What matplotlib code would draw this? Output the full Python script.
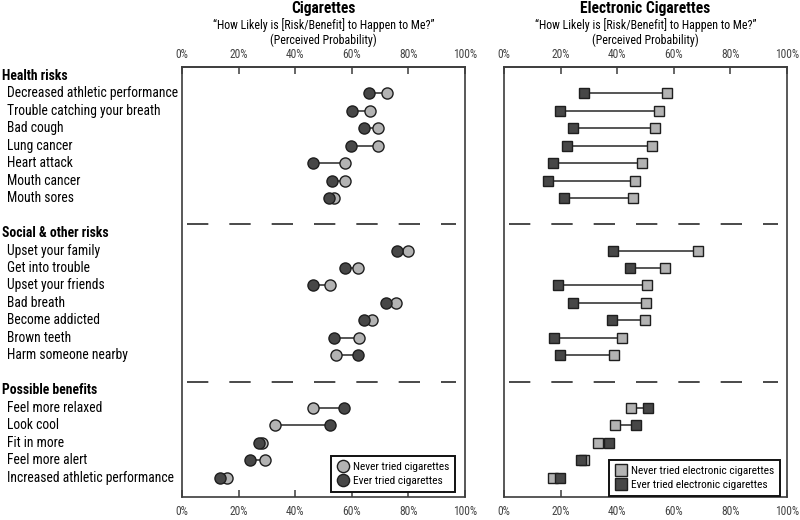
import matplotlib.pyplot as plt
from matplotlib import font_manager
from matplotlib.transforms import blended_transform_factory
from matplotlib.lines import Line2D

# row labels, grouped
health = ["Decreased athletic performance", "Trouble catching your breath", "Bad cough",
          "Lung cancer", "Heart attack", "Mouth cancer", "Mouth sores"]
social = ["Upset your family", "Get into trouble", "Upset your friends", "Bad breath",
          "Become addicted", "Brown teeth", "Harm someone nearby"]
benefits = ["Feel more relaxed", "Look cool", "Fit in more", "Feel more alert",
            "Increased athletic performance"]
groups = ["Health risks", "Social & other risks", "Possible benefits"]

# cigarettes (%), never / ever tried
cig_never = [72.3, 66.3, 69.4, 69.4, 57.5, 57.5, 53.8,
             80.0, 62.2, 52.2, 75.7, 67.3, 62.4, 54.3,
             46.4, 32.7, 28.2, 29.4, 15.8]
cig_ever = [66.0, 60.2, 64.2, 59.7, 46.4, 52.9, 52.1,
            76.0, 57.6, 46.2, 72.0, 64.2, 53.8, 62.1,
            57.4, 52.2, 27.1, 24.0, 13.4]

# e-cigarettes (%), never / ever tried
ecig_never = [57.6, 54.9, 53.2, 52.3, 48.8, 46.4, 45.7,
              68.6, 56.9, 50.4, 50.1, 49.7, 41.7, 38.9,
              44.8, 39.2, 33.2, 28.3, 17.2]
ecig_ever = [28.2, 19.7, 24.4, 22.4, 17.2, 15.4, 21.1,
             38.5, 44.4, 19.0, 24.4, 38.2, 17.6, 19.9,
             50.8, 46.6, 37.1, 27.1, 19.8]

LIGHT = "#b3b3b3"
DARK = "#474747"
EDGE = "#1e1e1e"

# Arial Narrow look-alike
installed = {f.name for f in font_manager.fontManager.ttflist}
narrow = [n for n in ["Liberation Sans Narrow", "Roboto Condensed", "Liberation Sans"] if n in installed]
plt.rcParams['font.family'] = narrow[:1] + ["DejaVu Sans"]

# y positions: header rows then items
header_pos = [0, 9, 18]
item_pos = list(range(1, 8)) + list(range(10, 17)) + list(range(19, 24))
dash_pos = [8.5, 17.5]
labels = health + social + benefits
ticks = list(range(0, 101, 20))
ticklabels = [f"{t}%" for t in ticks]

fig = plt.figure(figsize=(8, 5.2), dpi=100)
ax1 = fig.add_axes([182 / 800, 23 / 520, 283 / 800, 430 / 520])
ax2 = fig.add_axes([504 / 800, 23 / 520, 283 / 800, 430 / 520])


def panel(ax, never, ever, marker, ms, title, leg_labels, anchor):
    for y, a, b in zip(item_pos, never, ever):
        ax.plot([a, b], [y, y], color="#555555", lw=1.4, zorder=1)
    ax.plot(never, item_pos, ls="none", marker=marker, ms=ms, mfc=LIGHT,
            mec=EDGE, mew=1.0, zorder=2)
    ax.plot(ever, item_pos, ls="none", marker=marker, ms=ms, mfc=DARK,
            mec=EDGE, mew=1.0, zorder=3)
    for d in dash_pos:
        ln, = ax.plot([1.66, 96.8], [d, d], color="#2a2a2a", lw=1.2)
        ln.set_dashes((12.8, 12.6))
    ax.set_xlim(0, 100)
    ax.set_ylim(24.1, -0.5)
    ax.set_yticks([])
    ax.set_xticks(ticks)
    ax.set_xticklabels(ticklabels)
    ax.tick_params(axis="x", direction="in", length=5, labelsize=8.3,
                   labelcolor="#444444", color="#3c3c3c", width=1.1, pad=6)
    top = ax.secondary_xaxis("top")
    top.set_xticks(ticks)
    top.set_xticklabels(ticklabels)
    top.tick_params(axis="x", direction="in", length=5, labelsize=8.3,
                    labelcolor="#444444", color="#3c3c3c", width=1.1, pad=4)
    for s in list(ax.spines.values()) + list(top.spines.values()):
        s.set_color("#3c3c3c")
        s.set_linewidth(1.2)
    ax.text(0.5, 1.137, title, transform=ax.transAxes, ha="center", va="center",
            fontsize=11.2, fontweight="bold")
    ax.text(0.5, 1.098, "\u201cHow Likely is [Risk/Benefit] to Happen to Me?\u201d",
            transform=ax.transAxes, ha="center", va="center", fontsize=8.6)
    ax.text(0.5, 1.063, "(Perceived Probability)", transform=ax.transAxes,
            ha="center", va="center", fontsize=8.6)
    handles = [Line2D([], [], ls="none", marker=marker, ms=ms + 0.8, mfc=LIGHT, mec=EDGE),
               Line2D([], [], ls="none", marker=marker, ms=ms + 0.8, mfc=DARK, mec=EDGE)]
    leg = ax.legend(handles, leg_labels, loc="lower right", bbox_to_anchor=anchor,
                    prop={"size": 8.2}, fancybox=False, frameon=True,
                    handletextpad=0.4, borderpad=0.5, labelspacing=0.35,
                    handlelength=1.0, borderaxespad=0)
    leg.get_frame().set_edgecolor("#111111")
    leg.get_frame().set_linewidth(1.4)
    leg.get_frame().set_alpha(1)


panel(ax1, cig_never, cig_ever, "o", 8.0, "Cigarettes",
      ["Never tried cigarettes", "Ever tried cigarettes"], (0.965, 0.012))
panel(ax2, ecig_never, ecig_ever, "s", 7.2, "Electronic Cigarettes",
      ["Never tried electronic cigarettes", "Ever tried electronic cigarettes"],
      (0.975, 0.003))

tr = blended_transform_factory(fig.transFigure, ax1.transData)
for g, y in zip(groups, header_pos):
    fig.text(2 / 800, y, g, transform=tr, ha="left", va="center",
             fontsize=9.8, fontweight="bold")
for lab, y in zip(labels, item_pos):
    fig.text(7 / 800, y, lab, transform=tr, ha="left", va="center",
             fontsize=9.8)

fig.savefig("out.png", dpi=100)
